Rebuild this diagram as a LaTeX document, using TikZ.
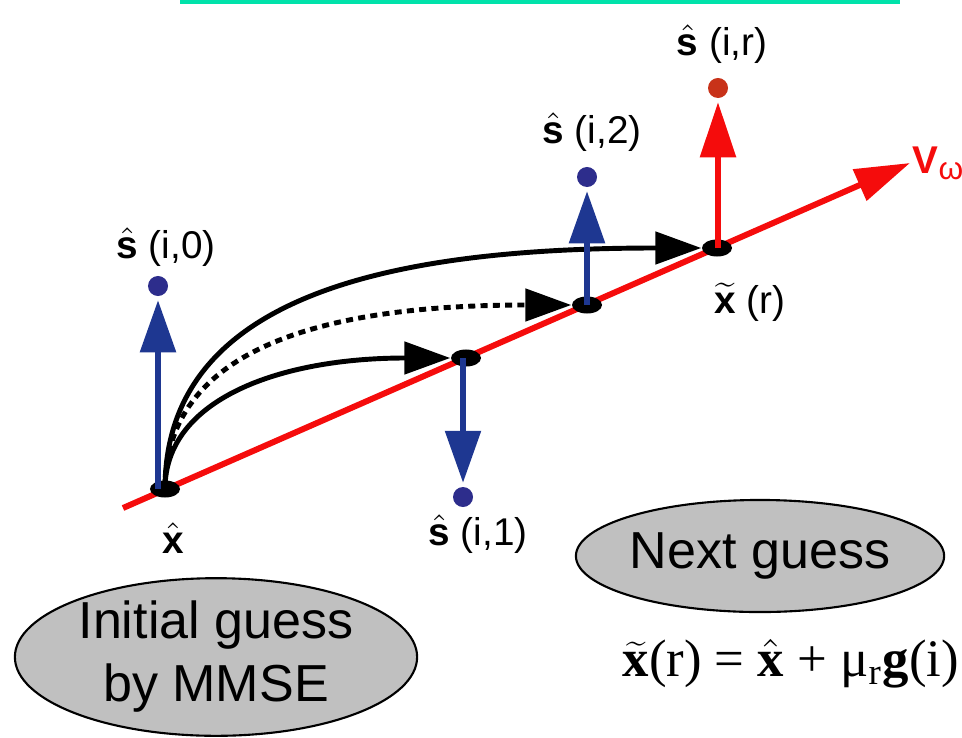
\documentclass[tikz,border=0pt]{standalone}
\usepackage{fontspec}
\setmainfont{Liberation Sans}
\newfontfamily\eqfont{Liberation Serif}
\usetikzlibrary{arrows.meta,positioning,shapes.geometric}
\definecolor{axisred}{RGB}{245,12,12}
\definecolor{dotred}{RGB}{200,50,25}
\definecolor{sblue}{RGB}{30,55,145}
\definecolor{dotblue}{RGB}{45,45,140}
\definecolor{guessgray}{RGB}{192,192,192}
\definecolor{topgreen}{RGB}{0,226,170}
\newcommand{\shat}{$\hat{\hbox{\textbf{s}}}$}
\newcommand{\bhat}[1]{$\hat{\hbox{\textbf{#1}}}$}
\newcommand{\btil}[1]{$\widetilde{\hbox{\textbf{#1}}}$}

\begin{document}
\begin{tikzpicture}[x=0.01cm,y=-0.01cm,
  every node/.style={font=\fontsize{11}{13}\selectfont},
  lab/.style={inner sep=0pt},
  pt/.style={ellipse,fill=black,minimum width=0.3cm,minimum height=0.17cm,inner sep=0pt},
  sdot/.style={circle,minimum size=0.2cm,inner sep=0pt},
  guess/.style={draw,ellipse,fill=guessgray,line width=0.6pt,align=center,inner sep=0pt,
    font=\fontsize{14.8}{17.9}\selectfont},
  path/.style={line width=1.4pt,-{Triangle[length=0.46cm,width=0.32cm]}}]
  \useasboundingbox (0,0) rectangle (962,737);
  \draw[topgreen,line width=1.2pt] (180,2) -- (900,2);

  % axis
  \coordinate (vs) at (123,508);
  \coordinate (ve) at (910,163);
  \draw[axisred,line width=1.7pt,-{Triangle[length=0.55cm,width=0.33cm]}] (vs) -- (ve);
  \node[lab,text=axisred,anchor=west,right=0.02cm of ve] (vw) {\textbf{V}\textsubscript{\fontsize{9}{9}\selectfont ω}};

  % points on the axis
  \node[pt] (x0) at (165,489) {};
  \node[pt] (p1) at (466,358) {};
  \node[pt] (p2) at (587,305) {};
  \node[pt] (pr) at (717,248) {};

  \node[sdot,fill=dotblue] (s0) at (158,286) {};
  \node[sdot,fill=dotblue] (s1) at (463,497) {};
  \node[sdot,fill=dotblue] (s2) at (587,177) {};
  \node[sdot,fill=dotred] (sr) at (718,88) {};

  \node[lab,above=0.08cm of s0,xshift=0.08cm] (l0) {\shat\ (i,0)};
  \node[lab,below=0.06cm of s1,xshift=0.15cm] (l1) {\shat\ (i,1)};
  \node[lab,above=0.14cm of s2,xshift=0.05cm] (l2) {\shat\ (i,2)};
  \node[lab,above=0.13cm of sr,xshift=0.04cm] (lr) {\shat\ (i,r)};
  \node[lab,below=0.24cm of x0,xshift=0.08cm] (lx0) {\bhat{x}};
  \node[lab,below=0.25cm of pr,xshift=0.33cm] (lxr) {\btil{x} (r)};

  % search paths
  \draw[path] (x0.center) .. controls +(0,-90) and +(-170,0) .. (p1.west);
  \draw[path,dash pattern=on 2pt off 1.5pt] (x0.center) .. controls +(0,-140) and +(-250,0) .. (p2.west);
  \draw[path] (x0.center) .. controls +(0,-190) and +(-320,0) .. (pr.west);

  \foreach \a/\b in {x0/s0,p1/s1,p2/s2}{
    \draw[sblue,line width=1.6pt,-{Triangle[length=0.52cm,width=0.35cm]},shorten >=1pt] (\b |- \a.center) -- (\b);
  }
  \draw[axisred,line width=1.6pt,-{Triangle[length=0.55cm,width=0.35cm]},shorten >=1pt] (sr |- pr.center) -- (sr);

  \node[guess,minimum width=4.02cm,minimum height=1.56cm] (init) at (216,657) {Initial guess\\by MMSE};
  \node[guess,minimum width=3.36cm,minimum height=1.12cm] (next) at (760,556) {Next guess};
  \node[lab,anchor=west,font={\eqfont\fontsize{15}{18}\selectfont}] (eq) at (622,664)
    {\btil{x}(r) = \bhat{x} + μ\textsubscript{r}\textbf{g}(i)};
\end{tikzpicture}
\end{document}
